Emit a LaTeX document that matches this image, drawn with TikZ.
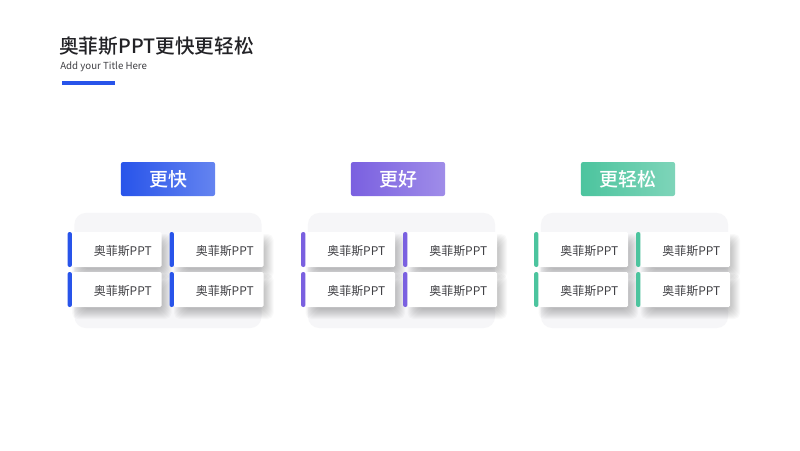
\documentclass[tikz,border=0pt]{standalone}
\usepackage{fontspec}
\setmainfont{Noto Sans CJK SC}[BoldFont={* Medium}]
\definecolor{fastc}{RGB}{40,84,234}
\definecolor{betterc}{RGB}{122,96,224}
\definecolor{easyc}{RGB}{76,196,158}
\definecolor{titlec}{RGB}{34,34,38}
\definecolor{textc}{RGB}{64,64,68}
\definecolor{panelc}{RGB}{246,246,248}
\tikzset{
  panel/.style={fill=panelc,rounded corners=8pt,minimum width=4.675cm,minimum height=2.875cm,inner sep=0pt},
  head/.style={rounded corners=1.5pt,minimum width=2.35cm,minimum height=0.85cm,inner sep=0pt,
    text=white,font=\fontsize{13.5}{15}\selectfont\bfseries},
  softshade/.style={black,opacity=0.022,rounded corners=4pt},
  card/.style={fill=white,rounded corners=1pt,minimum width=2.24cm,minimum height=0.875cm,inner sep=0pt},
  sidebar/.style={rounded corners=1.5pt,minimum width=0.11cm,minimum height=0.875cm,inner sep=0pt},
  cardtext/.style={text=textc,font=\fontsize{8.5}{10}\selectfont}
}
\begin{document}
\begin{tikzpicture}[x=0.025cm,y=-0.025cm]
  \fill[white] (0,0) rectangle (800,450);
  \useasboundingbox (0,0) rectangle (800,450);
  \node[anchor=west,inner sep=0pt,text=titlec,font=\fontsize{14}{16}\selectfont\bfseries] (title) at (59,46) {奥菲斯PPT更快更轻松};
  \node[anchor=west,inner sep=0pt,text=textc,font=\fontsize{6.9}{9}\selectfont] (subtitle) at (60,67) {Add your Title Here};
  \fill[fastc] (62,81) rectangle (115,85);
  \foreach \g/\bx/\hx/\c/\lab in {1/67.5/168/fastc/更快,2/301/398/betterc/更好,3/534/628/easyc/更轻松}{
    \node[panel] (panel\g) at (\bx+100.5,270.5) {};
    \node[head,left color=\c,right color=\c!72!white] (head\g) at (\hx,179) {\lab};
    \foreach \col/\dx in {1/0,2/102}{
      \foreach \row/\y in {1/249.5,2/289.5}{
        \foreach \e in {0,...,10}
          \fill[softshade] (\bx+\dx+14.5-\e,\y-5.5-\e) rectangle (\bx+\dx+94+\e,\y+19.5+\e);
        \node[card] (card\g\col\row) at (\bx+\dx+49.25,\y) {};
        \node[sidebar,fill=\c] (bar\g\col\row) at (\bx+\dx+2.25,\y) {};
        \node[cardtext] (txt\g\col\row) at ([xshift=4.3pt,yshift=-1pt]card\g\col\row.center) {奥菲斯PPT};
      }
    }
  }
\end{tikzpicture}
\end{document}
